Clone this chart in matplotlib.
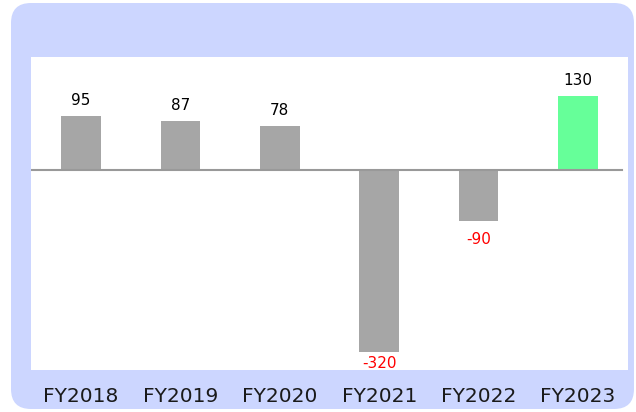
import matplotlib
matplotlib.use("Agg")
import matplotlib.pyplot as plt
from matplotlib.patches import FancyBboxPatch
from matplotlib.transforms import IdentityTransform

years = ["FY2018", "FY2019", "FY2020", "FY2021", "FY2022", "FY2023"]
values = [95, 87, 78, -320, -90, 130]
highlight = "FY2023"

YMIN, YMAX = -352, 199


def variance_chart() -> None:
    fig = plt.figure(figsize=(6.36, 4.12), dpi=100)
    fig.patch.set_facecolor("white")

    # rounded blue panel behind the plot
    panel = FancyBboxPatch((11, 3), 623, 406,
                           boxstyle="round,pad=0,rounding_size=20",
                           transform=IdentityTransform(),
                           facecolor="#ccd6ff", edgecolor="none", zorder=0)
    fig.add_artist(panel)

    ax = fig.add_axes([31.3 / 636, 42 / 412, 596.4 / 636, 313 / 412])
    ax.set_facecolor("white")

    x = range(len(years))
    colors = ["#66ff99" if y == highlight else "#a6a6a6" for y in years]
    ax.bar(x, values, width=0.4, color=colors, zorder=2)
    ax.axhline(0, xmin=0, xmax=0.99, color="#999999", lw=1.5, zorder=3)

    for i, v in enumerate(values):
        if v >= 0:
            ax.text(i, v + 14, str(v), ha="center", va="bottom",
                    fontsize=11, color="black")
        else:
            ax.text(i, max(v - 19, YMIN + 25), str(v), ha="center", va="top",
                    fontsize=11, color="red")

    ax.set_xlim(-0.5, len(years) - 0.5)
    ax.set_ylim(YMIN, YMAX)
    ax.set_xticks(list(x))
    ax.set_xticklabels(years, fontsize=14.5, color="#1a1a1a")
    ax.tick_params(axis="x", length=0, pad=12)
    ax.set_yticks([])
    for s in ax.spines.values():
        s.set_visible(False)

    fig.savefig("out.png", dpi=100)


if __name__ == "__main__":
    variance_chart()
